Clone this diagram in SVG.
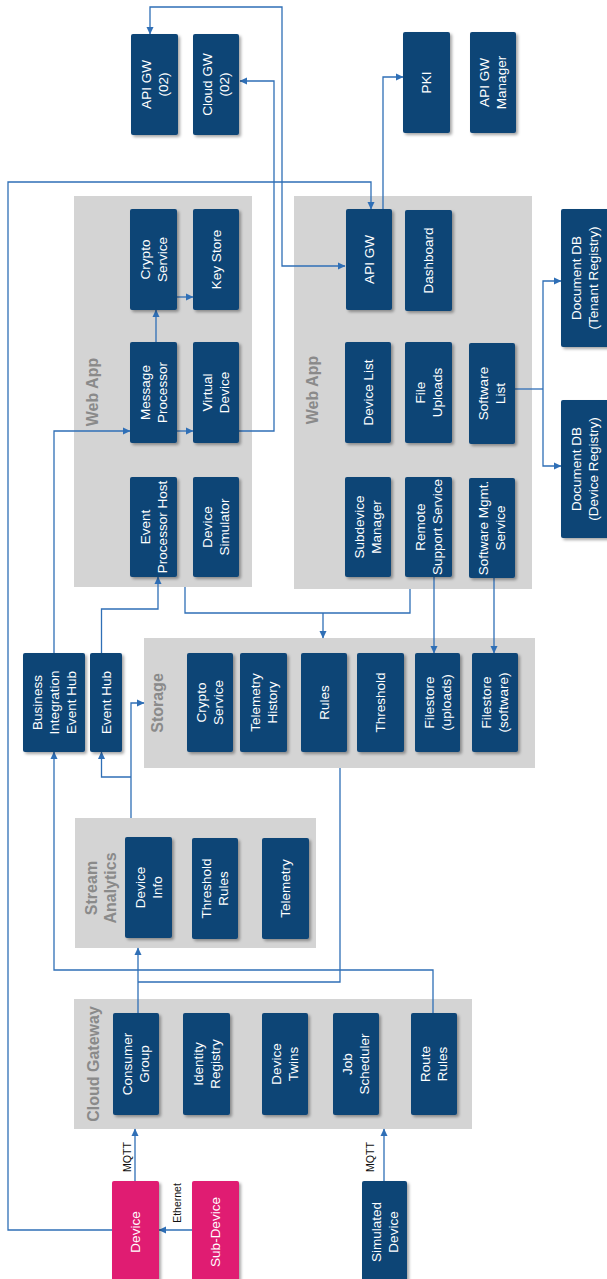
<svg xmlns="http://www.w3.org/2000/svg" width="607" height="1279" viewBox="0 0 607 1279">
<style>
.g{fill:#d4d4d4}
.b{fill:#0d4476;filter:url(#sh)}
.p{fill:#e01c72;filter:url(#sh)}
.t{fill:#ffffff;font-family:"Liberation Sans",Arial,sans-serif;font-size:13.5px;text-anchor:middle}
.gl{fill:#8a8a8a;font-family:"Liberation Sans",Arial,sans-serif;font-size:16px;font-weight:bold;text-anchor:middle}
.sl{fill:#111111;font-family:"Liberation Sans",Arial,sans-serif;font-size:10.5px;text-anchor:middle}
.c{fill:none;stroke:#2f6fb6;stroke-width:1.3}
.a{marker-end:url(#ar)}
</style>
<defs>
<filter id="sh" x="-20%" y="-20%" width="150%" height="150%">
<feDropShadow dx="2" dy="2" stdDeviation="1.6" flood-color="#000000" flood-opacity="0.35"/>
</filter>
<marker id="ar" markerWidth="8" markerHeight="8" refX="7" refY="4" orient="auto-start-reverse" markerUnits="userSpaceOnUse">
<path d="M0,0.5 L7.5,4 L0,7.5 Z" fill="#2f6fb6"/>
</marker>
</defs>

<!-- groups -->
<g id="webapp-left">
<rect class="g" x="74" y="196" width="178" height="391"/>
<text class="gl" transform="translate(92,392) rotate(-90)" y="5.6">Web App</text>
</g>
<g id="webapp-right">
<rect class="g" x="294" y="196" width="238" height="393"/>
<text class="gl" transform="translate(312,390) rotate(-90)" y="5.6">Web App</text>
</g>
<g id="storage">
<rect class="g" x="144" y="638" width="391" height="130"/>
<text class="gl" transform="translate(157,703) rotate(-90)" y="5.6">Storage</text>
</g>
<g id="stream-analytics">
<rect class="g" x="75" y="818" width="241" height="130"/>
<text class="gl" transform="translate(101,888) rotate(-90)"><tspan x="0" y="-4.2">Stream</tspan><tspan x="0" y="15.4">Analytics</tspan></text>
</g>
<g id="cloud-gateway">
<rect class="g" x="74" y="999" width="398" height="130"/>
<text class="gl" transform="translate(93,1064) rotate(-90)" y="5.6">Cloud Gateway</text>
</g>

<!-- connectors -->
<g id="connectors">
<path class="c" d="M345,266 H282 V7 H150 V34" marker-start="url(#ar)" marker-end="url(#ar)"/>
<path class="c a" d="M239,431 H274 V81 H240"/>
<path class="c a" d="M383,209 V77 H403"/>
<path class="c a" d="M112,1230 H8 V182 H371 V209"/>
<path class="c a" d="M156,342 V310"/>
<path class="c a" d="M177,297 H193"/>
<path class="c a" d="M177,431 H193"/>
<path class="c a" d="M54,653 V431 H130"/>
<path class="c a" d="M101.5,653 V609 H158 V577"/>
<path class="c" d="M185,587 V613 H410 V589"/>
<path class="c a" d="M323,613 V638"/>
<path class="c a" d="M434,577 V653"/>
<path class="c a" d="M494,578 V653"/>
<path class="c" d="M515,389 H543"/>
<path class="c a" d="M543,389 V281 H561"/>
<path class="c a" d="M543,389 V466 H561"/>
<path class="c a" d="M131,818 V703 H144"/>
<path class="c a" d="M131,777 H101.5 V752"/>
<path class="c a" d="M138,1013 V948"/>
<path class="c" d="M340,768 V982 H138"/>
<path class="c a" d="M433,1013 V970 H54 V752"/>
<path class="c a" d="M135,1181 V1129"/>
<path class="c a" d="M384,1181 V1129"/>
<path class="c a" d="M192,1230 H159"/>
<text class="sl" transform="translate(127,1157) rotate(-90)" y="3.7">MQTT</text>
<text class="sl" transform="translate(370,1157) rotate(-90)" y="3.7">MQTT</text>
<text class="sl" transform="translate(177.5,1203) rotate(-90)" y="3.7">Ethernet</text>
</g>

<!-- top nodes -->
<g id="api-gw-02"><rect class="b" x="131" y="34" width="47" height="101" rx="2"/><text class="t" transform="translate(154.5,84.5) rotate(-90)"><tspan x="0" y="-3.7">API GW</tspan><tspan x="0" y="13.3">(02)</tspan></text></g>
<g id="cloud-gw-02"><rect class="b" x="193" y="34" width="46" height="101" rx="2"/><text class="t" transform="translate(216,84.5) rotate(-90)"><tspan x="0" y="-3.7">Cloud GW</tspan><tspan x="0" y="13.3">(02)</tspan></text></g>
<g id="pki"><rect class="b" x="403" y="32" width="47" height="101" rx="2"/><text class="t" transform="translate(426.5,82.5) rotate(-90)" y="4.8">PKI</text></g>
<g id="api-gw-manager"><rect class="b" x="470" y="32" width="46" height="101" rx="2"/><text class="t" transform="translate(493,82.5) rotate(-90)"><tspan x="0" y="-3.7">API GW</tspan><tspan x="0" y="13.3">Manager</tspan></text></g>

<!-- left web app -->
<g id="crypto-service"><rect class="b" x="130" y="209" width="47" height="101" rx="2"/><text class="t" transform="translate(153.5,259.5) rotate(-90)"><tspan x="0" y="-3.7">Crypto</tspan><tspan x="0" y="13.3">Service</tspan></text></g>
<g id="key-store"><rect class="b" x="193" y="209" width="46" height="101" rx="2"/><text class="t" transform="translate(216,259.5) rotate(-90)" y="4.8">Key Store</text></g>
<g id="message-processor"><rect class="b" x="130" y="342" width="47" height="101" rx="2"/><text class="t" transform="translate(153.5,392.5) rotate(-90)"><tspan x="0" y="-3.7">Message</tspan><tspan x="0" y="13.3">Processor</tspan></text></g>
<g id="virtual-device"><rect class="b" x="193" y="342" width="46" height="101" rx="2"/><text class="t" transform="translate(216,392.5) rotate(-90)"><tspan x="0" y="-3.7">Virtual</tspan><tspan x="0" y="13.3">Device</tspan></text></g>
<g id="event-processor-host"><rect class="b" x="130" y="477" width="47" height="100" rx="2"/><text class="t" transform="translate(153.5,527) rotate(-90)"><tspan x="0" y="-3.7">Event</tspan><tspan x="0" y="13.3">Processor Host</tspan></text></g>
<g id="device-simulator"><rect class="b" x="193" y="477" width="46" height="100" rx="2"/><text class="t" transform="translate(216,527) rotate(-90)"><tspan x="0" y="-3.7">Device</tspan><tspan x="0" y="13.3">Simulator</tspan></text></g>

<!-- right web app -->
<g id="api-gw"><rect class="b" x="346" y="209" width="46" height="101" rx="2"/><text class="t" transform="translate(369,259.5) rotate(-90)" y="4.8">API GW</text></g>
<g id="dashboard"><rect class="b" x="405" y="210" width="47" height="101" rx="2"/><text class="t" transform="translate(428.5,260.5) rotate(-90)" y="4.8">Dashboard</text></g>
<g id="device-list"><rect class="b" x="345" y="342" width="46" height="101" rx="2"/><text class="t" transform="translate(368,392.5) rotate(-90)" y="4.8">Device List</text></g>
<g id="file-uploads"><rect class="b" x="405" y="342" width="47" height="101" rx="2"/><text class="t" transform="translate(428.5,392.5) rotate(-90)"><tspan x="0" y="-3.7">File</tspan><tspan x="0" y="13.3">Uploads</tspan></text></g>
<g id="software-list"><rect class="b" x="469" y="343" width="46" height="101" rx="2"/><text class="t" transform="translate(492,393.5) rotate(-90)"><tspan x="0" y="-3.7">Software</tspan><tspan x="0" y="13.3">List</tspan></text></g>
<g id="subdevice-manager"><rect class="b" x="345" y="477" width="46" height="100" rx="2"/><text class="t" transform="translate(368,527) rotate(-90)"><tspan x="0" y="-3.7">Subdevice</tspan><tspan x="0" y="13.3">Manager</tspan></text></g>
<g id="remote-support-service"><rect class="b" x="405" y="477" width="47" height="100" rx="2"/><text class="t" transform="translate(428.5,527) rotate(-90)"><tspan x="0" y="-3.7">Remote</tspan><tspan x="0" y="13.3">Support Service</tspan></text></g>
<g id="software-mgmt-service"><rect class="b" x="469" y="478" width="46" height="100" rx="2"/><text class="t" transform="translate(492,528) rotate(-90)"><tspan x="0" y="-3.7">Software Mgmt.</tspan><tspan x="0" y="13.3">Service</tspan></text></g>

<!-- document dbs -->
<g id="docdb-tenant"><rect class="b" x="561" y="209" width="48" height="138" rx="2"/><text class="t" transform="translate(584.5,278) rotate(-90)"><tspan x="0" y="-3.7">Document DB</tspan><tspan x="0" y="13.3">(Tenant Registry)</tspan></text></g>
<g id="docdb-device"><rect class="b" x="561" y="400" width="48" height="138" rx="2"/><text class="t" transform="translate(584.5,469) rotate(-90)"><tspan x="0" y="-3.7">Document DB</tspan><tspan x="0" y="13.3">(Device Registry)</tspan></text></g>

<!-- hubs -->
<g id="business-integration-event-hub"><rect class="b" x="23" y="653" width="62" height="99" rx="2"/><text class="t" transform="translate(54,702.5) rotate(-90)"><tspan x="0" y="-12.2">Business</tspan><tspan x="0" y="4.8">Integration</tspan><tspan x="0" y="21.8">Event Hub</tspan></text></g>
<g id="event-hub"><rect class="b" x="90" y="653" width="32" height="99" rx="2"/><text class="t" transform="translate(106,702.5) rotate(-90)" y="4.8">Event Hub</text></g>

<!-- storage -->
<g id="storage-crypto-service"><rect class="b" x="187" y="653" width="46" height="99" rx="2"/><text class="t" transform="translate(210,702.5) rotate(-90)"><tspan x="0" y="-3.7">Crypto</tspan><tspan x="0" y="13.3">Service</tspan></text></g>
<g id="telemetry-history"><rect class="b" x="240" y="653" width="47" height="99" rx="2"/><text class="t" transform="translate(263.5,702.5) rotate(-90)"><tspan x="0" y="-3.7">Telemetry</tspan><tspan x="0" y="13.3">History</tspan></text></g>
<g id="rules"><rect class="b" x="301" y="653" width="46" height="99" rx="2"/><text class="t" transform="translate(324,702.5) rotate(-90)" y="4.8">Rules</text></g>
<g id="threshold"><rect class="b" x="357" y="653" width="47" height="99" rx="2"/><text class="t" transform="translate(380.5,702.5) rotate(-90)" y="4.8">Threshold</text></g>
<g id="filestore-uploads"><rect class="b" x="415" y="653" width="45" height="99" rx="2"/><text class="t" transform="translate(437.5,702.5) rotate(-90)"><tspan x="0" y="-3.7">Filestore</tspan><tspan x="0" y="13.3">(uploads)</tspan></text></g>
<g id="filestore-software"><rect class="b" x="472" y="653" width="46" height="99" rx="2"/><text class="t" transform="translate(495,702.5) rotate(-90)"><tspan x="0" y="-3.7">Filestore</tspan><tspan x="0" y="13.3">(software)</tspan></text></g>

<!-- stream analytics -->
<g id="device-info"><rect class="b" x="125" y="837" width="47" height="101" rx="2"/><text class="t" transform="translate(148.5,887.5) rotate(-90)"><tspan x="0" y="-3.7">Device</tspan><tspan x="0" y="13.3">Info</tspan></text></g>
<g id="threshold-rules"><rect class="b" x="192" y="838" width="46" height="101" rx="2"/><text class="t" transform="translate(215,888.5) rotate(-90)"><tspan x="0" y="-3.7">Threshold</tspan><tspan x="0" y="13.3">Rules</tspan></text></g>
<g id="telemetry"><rect class="b" x="262" y="838" width="47" height="101" rx="2"/><text class="t" transform="translate(285.5,888.5) rotate(-90)" y="4.8">Telemetry</text></g>

<!-- cloud gateway -->
<g id="consumer-group"><rect class="b" x="113" y="1013" width="46" height="102" rx="2"/><text class="t" transform="translate(136,1064) rotate(-90)"><tspan x="0" y="-3.7">Consumer</tspan><tspan x="0" y="13.3">Group</tspan></text></g>
<g id="identity-registry"><rect class="b" x="183" y="1013" width="47" height="102" rx="2"/><text class="t" transform="translate(206.5,1064) rotate(-90)"><tspan x="0" y="-3.7">Identity</tspan><tspan x="0" y="13.3">Registry</tspan></text></g>
<g id="device-twins"><rect class="b" x="262" y="1013" width="46" height="102" rx="2"/><text class="t" transform="translate(285,1064) rotate(-90)"><tspan x="0" y="-3.7">Device</tspan><tspan x="0" y="13.3">Twins</tspan></text></g>
<g id="job-scheduler"><rect class="b" x="333" y="1013" width="46" height="102" rx="2"/><text class="t" transform="translate(356,1064) rotate(-90)"><tspan x="0" y="-3.7">Job</tspan><tspan x="0" y="13.3">Scheduler</tspan></text></g>
<g id="route-rules"><rect class="b" x="411" y="1013" width="46" height="102" rx="2"/><text class="t" transform="translate(434,1064) rotate(-90)"><tspan x="0" y="-3.7">Route</tspan><tspan x="0" y="13.3">Rules</tspan></text></g>

<!-- devices -->
<g id="device"><rect class="p" x="112" y="1181" width="47" height="104" rx="2"/><text class="t" transform="translate(135.5,1232) rotate(-90)" y="4.8">Device</text></g>
<g id="sub-device"><rect class="p" x="192" y="1181" width="47" height="104" rx="2"/><text class="t" transform="translate(215.5,1232) rotate(-90)" y="4.8">Sub-Device</text></g>
<g id="simulated-device"><rect class="b" x="362" y="1181" width="45" height="104" rx="2"/><text class="t" transform="translate(384.5,1232) rotate(-90)"><tspan x="0" y="-3.7">Simulated</tspan><tspan x="0" y="13.3">Device</tspan></text></g>
</svg>
